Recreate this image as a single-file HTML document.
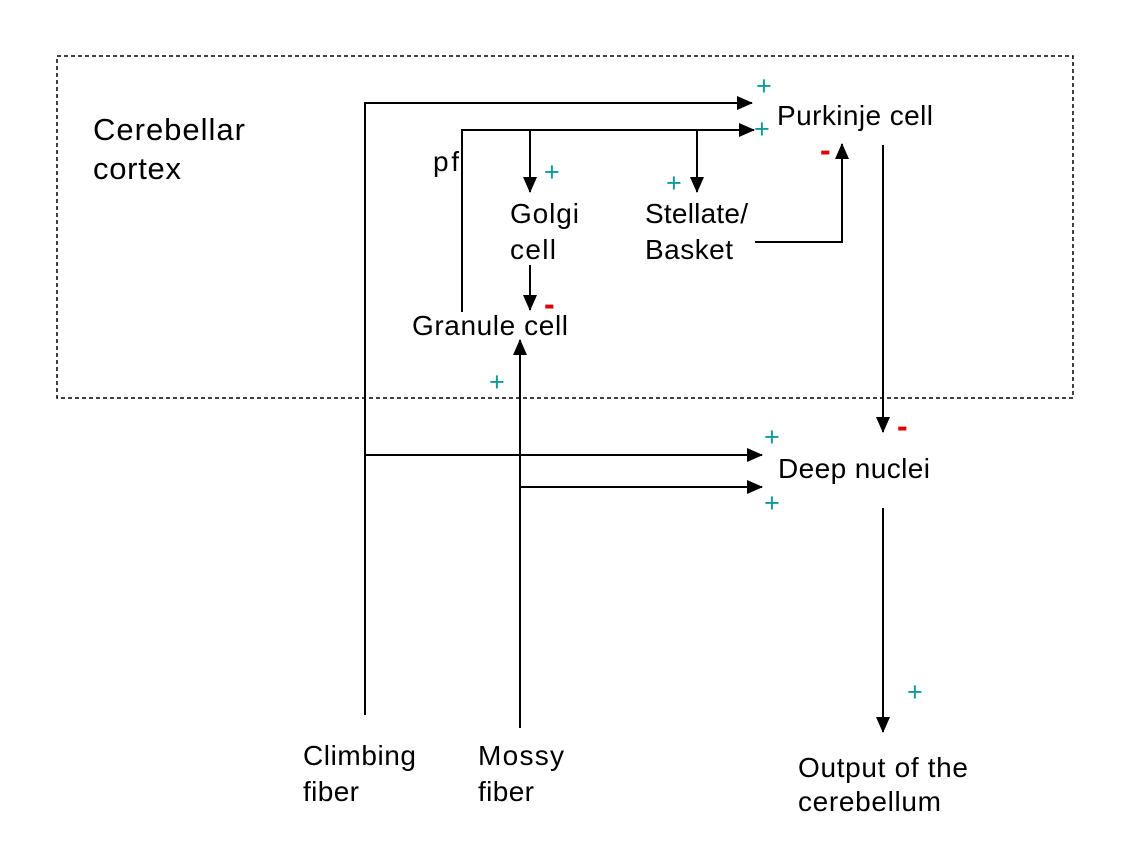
<!DOCTYPE html>
<html><head><meta charset="utf-8"><style>
html,body{margin:0;padding:0;background:#fff;}
svg text{font-family:"Liberation Sans",Arial,sans-serif;font-size:28px;fill:#000;}
svg text.p{fill:#119a9a;font-size:27px;}
svg text.m{fill:#e00000;font-size:32px;font-weight:bold;}
</style></head><body>
<svg width="1132" height="854" viewBox="0 0 1132 854">
<defs><marker id="ah2" markerWidth="16" markerHeight="14" refX="15" refY="7" orient="auto" markerUnits="userSpaceOnUse"><path d="M0,0 L16,7 L0,14 z" fill="#000"/></marker></defs>
<rect x="57" y="56" width="1016" height="342" fill="none" stroke="#000" stroke-width="1.5" stroke-dasharray="4,3"/>
<g stroke="#000" stroke-width="2" fill="none">
<path d="M365,715 L365,103 L752,103" marker-end="url(#ah2)"/>
<path d="M365,455 L762,455" marker-end="url(#ah2)"/>
<path d="M462,312 L462,130 L754,130" marker-end="url(#ah2)"/>
<path d="M530,130 L530,192" marker-end="url(#ah2)"/>
<path d="M697,130 L697,192" marker-end="url(#ah2)"/>
<path d="M530,265 L530,310" marker-end="url(#ah2)"/>
<path d="M755,242 L842,242 L842,144" marker-end="url(#ah2)"/>
<path d="M520,728 L520,340" marker-end="url(#ah2)"/>
<path d="M520,487 L762,487" marker-end="url(#ah2)"/>
<path d="M883,145 L883,432" marker-end="url(#ah2)"/>
<path d="M883,508 L883,732" marker-end="url(#ah2)"/>
</g>
<text x="93" y="140" style="font-size:31px" textLength="152">Cerebellar</text>
<text x="93" y="179" style="font-size:31px" textLength="88">cortex</text>
<text x="777" y="125" textLength="156">Purkinje cell</text>
<text x="433" y="171" textLength="26">pf</text>
<text x="510" y="223" textLength="69">Golgi</text>
<text x="510" y="259" textLength="46">cell</text>
<text x="645" y="223" textLength="103">Stellate/</text>
<text x="645" y="259" textLength="88">Basket</text>
<text x="412" y="335" textLength="156">Granule cell</text>
<text x="778" y="478" textLength="152">Deep nuclei</text>
<text x="303" y="765" textLength="113">Climbing</text>
<text x="303" y="801" textLength="56">fiber</text>
<text x="478" y="765" textLength="86">Mossy</text>
<text x="478" y="801" textLength="56">fiber</text>
<text x="798" y="777" textLength="170">Output of the</text>
<text x="798" y="811" textLength="143">cerebellum</text>
<g>
<text class="p" x="756" y="95">+</text>
<text class="p" x="754" y="138">+</text>
<text class="p" x="544" y="181">+</text>
<text class="p" x="666" y="192">+</text>
<text class="p" x="489" y="391">+</text>
<text class="p" x="764" y="446">+</text>
<text class="p" x="764" y="512">+</text>
<text class="p" x="907" y="701">+</text>
</g>
<g>
<text class="m" x="820" y="161">-</text>
<text class="m" x="544" y="315">-</text>
<text class="m" x="897" y="437">-</text>
</g>
</svg>
</body></html>
